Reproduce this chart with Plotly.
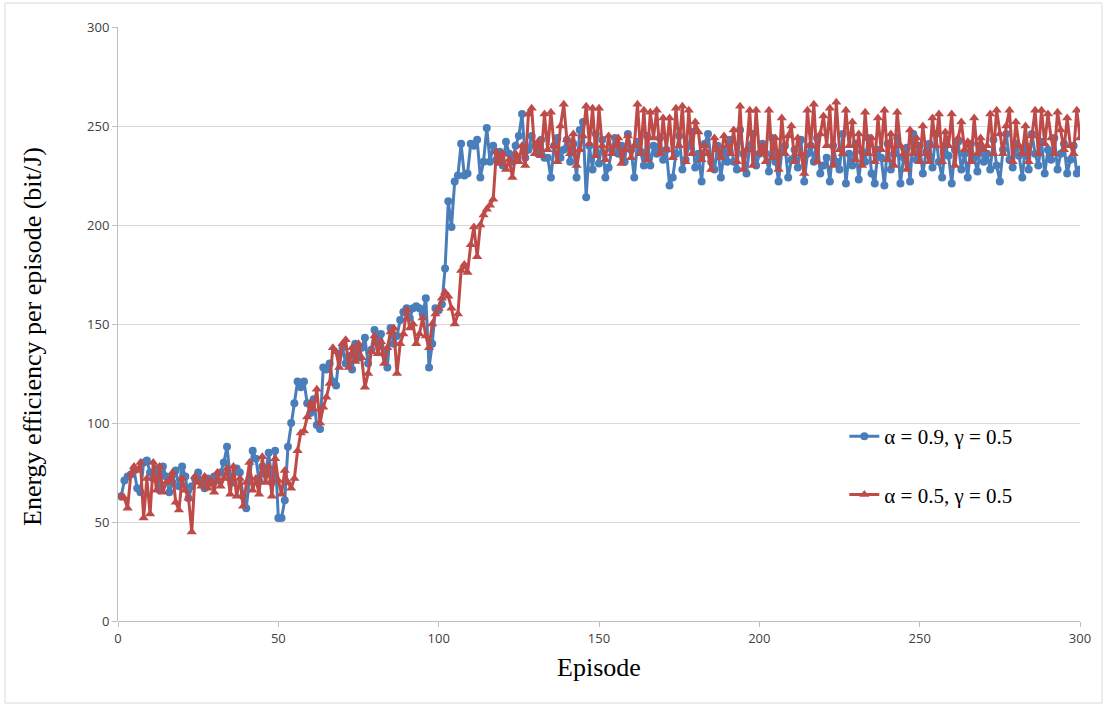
import plotly.graph_objects as go

episodes = list(range(1, 301))

blue_vals = [
    63, 71, 73, 74, 76, 67, 65, 80, 81, 75,
    72, 77, 66, 78, 73, 65, 70, 76, 68, 78,
    73, 62, 68, 72, 75, 70, 67, 72, 70, 73,
    71, 75, 80, 88, 72, 70, 77, 75, 63, 57,
    72, 86, 82, 71, 78, 74, 85, 70, 86, 52,
    52, 61, 88, 100, 110, 121, 118, 121, 110, 105,
    112, 99, 97, 128, 127, 130, 121, 119, 135, 138,
    130, 134, 127, 140, 133, 138, 143, 130, 137, 147,
    140, 145, 135, 128, 148, 140, 144, 152, 156, 158,
    153, 158, 159, 158, 155, 163, 128, 140, 158, 157,
    160, 178, 212, 199, 222, 225, 241, 225, 226, 241,
    240, 243, 224, 232, 249, 232, 240, 233, 237, 230,
    242, 236, 232, 240, 245, 256, 234, 238, 245, 240,
    236, 243, 234, 234, 224, 240, 244, 234, 238, 243,
    232, 241, 224, 248, 252, 214, 240, 228, 246, 231,
    243, 224, 229, 238, 244, 236, 240, 232, 246, 238,
    224, 242, 237, 230, 245, 230, 240, 236, 244, 233,
    238, 220, 224, 236, 245, 228, 233, 240, 247, 229,
    236, 222, 241, 246, 232, 228, 240, 224, 237, 232,
    243, 232, 228, 248, 236, 226, 240, 246, 230, 236,
    241, 236, 227, 244, 232, 222, 237, 240, 224, 233,
    238, 229, 243, 222, 236, 240, 232, 244, 226, 230,
    234, 222, 240, 232, 228, 246, 221, 236, 230, 241,
    223, 237, 232, 244, 226, 221, 238, 234, 220, 241,
    228, 236, 244, 221, 234, 239, 222, 246, 233, 240,
    226, 237, 241, 229, 246, 232, 224, 240, 235, 221,
    238, 242, 228, 236, 224, 241, 234, 227, 240, 232,
    236, 228, 243, 230, 222, 238, 246, 233, 229, 241,
    235, 224, 240, 228, 246, 236, 230, 242, 226, 238,
    233, 244, 228, 236, 241, 226, 233, 240, 226, 228,
]

red_vals = [
    63, 62, 57, 74, 78, 76, 80, 52, 72, 54,
    80, 66, 78, 65, 70, 71, 75, 60, 56, 72,
    66, 62, 45, 73, 70, 68, 73, 67, 71, 65,
    75, 68, 72, 77, 64, 78, 63, 72, 58, 70,
    80, 66, 72, 64, 83, 70, 78, 63, 82, 71,
    64, 76, 70, 67, 72, 86, 95, 96, 103, 110,
    107, 117, 100, 108, 113, 120, 138, 136, 128, 140,
    142, 128, 138, 131, 140, 133, 118, 125, 136, 144,
    135, 141, 130, 138, 146, 148, 125, 140, 145, 157,
    148, 150, 140, 145, 153, 144, 138, 150, 155, 158,
    163, 166, 164, 158, 150, 155, 177, 180, 176, 190,
    199, 184, 200, 205, 208, 210, 213, 237, 231, 236,
    228, 233, 224, 236, 232, 240, 230, 256, 259, 236,
    242, 235, 256, 238, 257, 240, 232, 250, 261, 243,
    236, 246, 230, 238, 245, 260, 241, 259, 235, 259,
    240, 233, 245, 236, 240, 244, 231, 238, 245, 234,
    240, 261, 236, 258, 233, 257, 244, 258, 236, 254,
    238, 254, 234, 259, 240, 260, 232, 258, 236, 252,
    247, 233, 240, 236, 228, 244, 238, 234, 245, 240,
    236, 248, 232, 260, 228, 238, 258, 230, 258, 236,
    240, 232, 258, 234, 244, 228, 254, 236, 245, 250,
    232, 244, 236, 226, 258, 240, 261, 232, 246, 255,
    240, 259, 230, 262, 238, 236, 258, 240, 252, 233,
    246, 230, 257, 236, 244, 232, 254, 238, 258, 233,
    246, 230, 257, 240, 236, 228, 248, 236, 244, 232,
    250, 236, 232, 254, 240, 256, 232, 247, 240, 256,
    230, 244, 252, 238, 242, 232, 254, 236, 244, 238,
    240, 256, 236, 258, 246, 236, 250, 258, 232, 252,
    240, 236, 250, 232, 245, 258, 236, 258, 241, 256,
    244, 236, 257, 248, 238, 254, 240, 236, 258, 244,
]

blue_name = "α = 0.9, γ = 0.5"
red_name = "α = 0.5, γ = 0.5"
x_title = "Episode"
y_title = "Energy efficiency per episode (bit/J)"
x_ticks = [0, 50, 100, 150, 200, 250, 300]
y_ticks = [0, 50, 100, 150, 200, 250, 300]

BLUE = "#4A7EBB"
RED = "#BE4B48"

fig = go.Figure()
fig.add_trace(go.Scatter(
    x=episodes, y=blue_vals, name=blue_name, mode="lines+markers",
    line=dict(color=BLUE, width=3),
    marker=dict(symbol="circle", size=8, color=BLUE),
    legendgroup="a",
))
fig.add_trace(go.Scatter(
    x=episodes, y=red_vals, name=red_name, mode="lines+markers",
    line=dict(color=RED, width=3),
    marker=dict(symbol="triangle-up", size=9, color=RED),
    legendgroup="b",
))

serif = "Liberation Serif, Times New Roman, serif"
sans = "Open Sans, Arial, sans-serif"

fig.update_layout(
    width=1108, height=706,
    margin=dict(l=118, r=28, t=27, b=85),
    paper_bgcolor="white", plot_bgcolor="white",
    showlegend=True,
    legend=dict(
        x=0.755, y=0.345, xanchor="left", yanchor="top",
        font=dict(family=serif, size=21, color="#000000"),
        bgcolor="rgba(0,0,0,0)", tracegroupgap=28,
        itemwidth=30,
    ),
    xaxis=dict(
        range=[0, 300], tickvals=x_ticks, ticktext=[str(v) for v in x_ticks],
        showgrid=False, showline=False, zeroline=False,
        ticks="outside", ticklen=5, tickcolor="#BFBFBF",
        tickfont=dict(family=sans, size=13, color="#404040"),
        title=dict(text=x_title, font=dict(family=serif, size=26, color="#000000"), standoff=12),
    ),
    yaxis=dict(
        range=[0, 300], tickvals=y_ticks, ticktext=[str(v) for v in y_ticks],
        showgrid=True, gridcolor="#D9D9D9", gridwidth=1,
        showline=True, linecolor="#BFBFBF", linewidth=1,
        zeroline=True, zerolinecolor="#BFBFBF", zerolinewidth=1,
        ticks="outside", ticklen=5, tickcolor="#BFBFBF",
        tickfont=dict(family=sans, size=13, color="#404040"),
    ),
)

fig.add_annotation(
    text=y_title, textangle=-90, showarrow=False,
    xref="paper", yref="paper", x=(32 - 118) / 962, y=(621 - 337) / 594,
    xanchor="center", yanchor="middle",
    font=dict(family=serif, size=26, color="#000000"),
)

# outer chart frame
fig.add_shape(type="rect", xref="paper", yref="paper",
              x0=(5 - 118) / 962, x1=(1102 - 118) / 962,
              y0=(621 - 703) / 594, y1=(621 - 3) / 594,
              line=dict(color="#D9D9D9", width=1), fillcolor="rgba(0,0,0,0)", layer="below")

fig.write_html("out.html")
